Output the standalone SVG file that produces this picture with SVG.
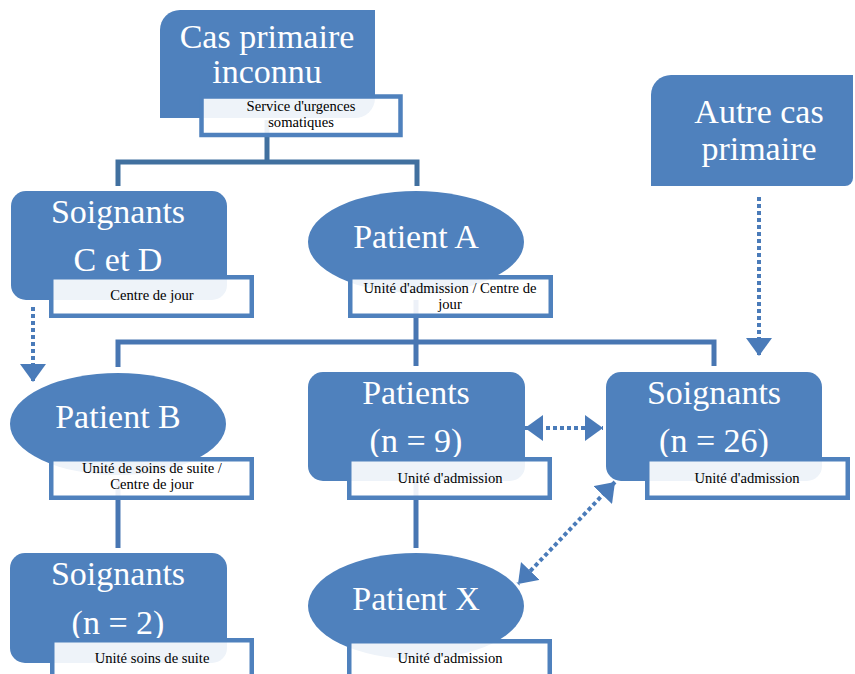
<svg xmlns="http://www.w3.org/2000/svg" width="855" height="674" viewBox="0 0 855 674">
<style>
.shape{fill:#4F81BD}
.lab{fill:#FFFFFF;fill-opacity:0.9;stroke:#4F81BD;stroke-width:4.5}
.big{font-family:"Liberation Serif","Times New Roman",serif;font-size:34px;fill:#FFFFFF;text-anchor:middle}
.small{font-family:"Liberation Serif","Times New Roman",serif;font-size:14.6px;fill:#000000;text-anchor:middle}
.tree1{fill:none;stroke:#41709F;stroke-width:5}
.tree2{fill:none;stroke:#4876B2;stroke-width:5}
.dot{fill:none;stroke:#4A7BB9;stroke-width:4;stroke-dasharray:4 3}
</style>
<defs>
<marker id="ah" markerUnits="userSpaceOnUse" viewBox="0 0 18 26" markerWidth="18" markerHeight="26" refX="18" refY="13" orient="auto-start-reverse">
<path d="M0,0 L18,13 L0,26 Z" fill="#4A7BB9"/>
</marker>
</defs>
<rect width="855" height="674" fill="#FFFFFF"/>
<g id="connectors">
<path class="tree1" d="M267,120 V162 M118,186 V162 H417 V186"/>
<path class="tree2" d="M416,300 V366 M118,367 V342 H714 V366"/>
<path class="tree2" d="M118,480 V548"/>
<path class="tree2" d="M416,480 V548"/>
<path class="dot" d="M33,307 V382" marker-end="url(#ah)"/>
<path class="dot" d="M759,197 V356" marker-end="url(#ah)"/>
<path class="dot" d="M525,428 H603" marker-start="url(#ah)" marker-end="url(#ah)"/>
<path class="dot" d="M615,482 L518,584" marker-start="url(#ah)" marker-end="url(#ah)"/>
</g>
<g id="cas-primaire-inconnu">
<path class="shape" d="M180,10 H375 V98 A20,20 0 0 1 355,118 H160 V30 A20,20 0 0 1 180,10 Z"/>
<text class="big" x="267" y="48">Cas primaire</text>
<text class="big" x="267" y="83">inconnu</text>
<rect class="lab" x="201.5" y="96.5" width="199" height="38.5"/>
<text class="small" x="301" y="111">Service d'urgences</text>
<text class="small" x="301" y="127.2">somatiques</text>
</g>
<g id="soignants-c-d">
<rect class="shape" x="11" y="191" width="216" height="109" rx="15"/>
<text class="big" x="118" y="223">Soignants</text>
<text class="big" x="118" y="271">C et D</text>
<rect class="lab" x="51.25" y="277.25" width="200.5" height="38.5"/>
<text class="small" x="152" y="300">Centre de jour</text>
</g>
<g id="patient-a">
<ellipse class="shape" cx="416" cy="242" rx="108" ry="51"/>
<text class="big" x="416" y="248">Patient A</text>
<rect class="lab" x="350.25" y="277.25" width="200.5" height="38.5"/>
<text class="small" x="450" y="292.5">Unité d'admission / Centre de</text>
<text class="small" x="450" y="308.7">jour</text>
</g>
<g id="autre-cas-primaire">
<path class="shape" d="M671,75 H853 V178 A8,8 0 0 1 845,186 H651 V95 A20,20 0 0 1 671,75 Z"/>
<text class="big" x="759" y="123">Autre cas</text>
<text class="big" x="759" y="160">primaire</text>
</g>
<g id="patient-b">
<ellipse class="shape" cx="118" cy="424" rx="108" ry="51"/>
<text class="big" x="118" y="428">Patient B</text>
<rect class="lab" x="51.25" y="459.25" width="200.5" height="38.5"/>
<text class="small" x="152" y="472.5">Unité de soins de suite /</text>
<text class="small" x="152" y="488.7">Centre de jour</text>
</g>
<g id="patients-n9">
<rect class="shape" x="308" y="372" width="217" height="109" rx="15"/>
<text class="big" x="416" y="404">Patients</text>
<text class="big" x="416" y="452">(n = 9)</text>
<rect class="lab" x="349.25" y="459.25" width="200.5" height="38.5"/>
<text class="small" x="450" y="483">Unité d'admission</text>
</g>
<g id="soignants-n26">
<rect class="shape" x="606" y="372" width="216" height="109" rx="15"/>
<text class="big" x="714" y="404">Soignants</text>
<text class="big" x="714" y="452">(n = 26)</text>
<rect class="lab" x="647.25" y="459.25" width="200.5" height="38.5"/>
<text class="small" x="747" y="483">Unité d'admission</text>
</g>
<g id="soignants-n2">
<rect class="shape" x="10" y="553" width="217" height="110" rx="15"/>
<text class="big" x="118" y="585">Soignants</text>
<text class="big" x="118" y="634">(n = 2)</text>
<rect class="lab" x="52.25" y="640.25" width="199.5" height="42"/>
<text class="small" x="152" y="663">Unité soins de suite</text>
</g>
<g id="patient-x">
<ellipse class="shape" cx="416" cy="606" rx="108" ry="53"/>
<text class="big" x="416" y="610">Patient X</text>
<rect class="lab" x="349.25" y="641.25" width="200.5" height="42"/>
<text class="small" x="450" y="663">Unité d'admission</text>
</g>
</svg>
